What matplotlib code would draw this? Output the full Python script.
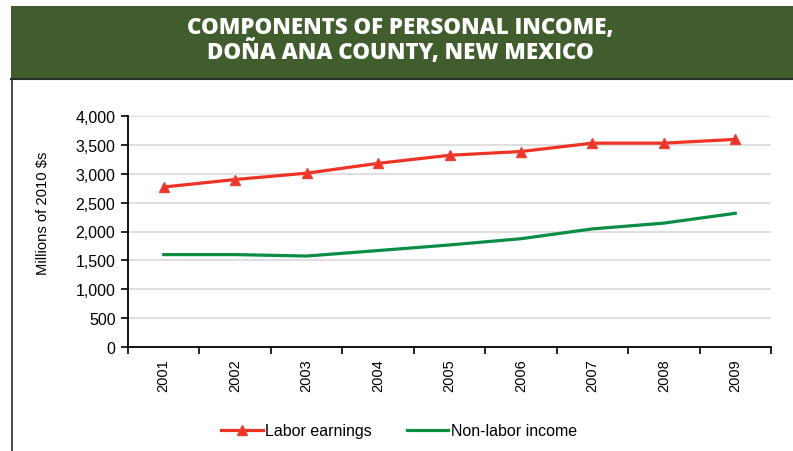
import numpy as np
import matplotlib.pyplot as plt
from matplotlib.patches import Rectangle
from matplotlib.lines import Line2D
from matplotlib.ticker import FuncFormatter, FixedLocator

years = ['2001', '2002', '2003', '2004', '2005', '2006', '2007', '2008', '2009']
labor = [2770, 2900, 3010, 3180, 3320, 3385, 3530, 3530, 3595]
nonlabor = [1600, 1600, 1575, 1670, 1767, 1875, 2045, 2145, 2315]

W, H = 793, 452
fig = plt.figure(figsize=(W / 100, H / 100), dpi=100)
fig.patch.set_facecolor('white')

# banner
fig.add_artist(Rectangle((11 / W, 1 - 79 / H), 1, 72 / H, transform=fig.transFigure,
                         facecolor='#415D2E', edgecolor='none'))
fig.text(400 / W, 1 - 28 / H, 'COMPONENTS OF PERSONAL INCOME,', color='white',
         fontsize=16, fontweight='heavy', family='Open Sans', ha='center', va='center')
fig.text(400 / W, 1 - 53 / H, 'DOÑA ANA COUNTY, NEW MEXICO', color='white',
         fontsize=16, fontweight='heavy', family='Open Sans', ha='center', va='center')
# box border
fig.add_artist(Line2D([11 / W, 1], [1 - 80 / H, 1 - 80 / H], transform=fig.transFigure,
                      color='#2b2b2b', lw=1.5))
fig.add_artist(Line2D([12 / W, 12 / W], [0, 1 - 80 / H], transform=fig.transFigure,
                      color='#2b2b2b', lw=1.2))

ax = fig.add_axes([128 / W, 1 - 348 / H, (771 - 128) / W, (348 - 117) / H])
x = np.arange(len(years))
ax.plot(x, labor, color='#EE3325', lw=2.3, marker='^', markersize=6.5,
        markeredgecolor='#E8453A', label='Labor earnings', zorder=3)
ax.plot(x, nonlabor, color='#0B8E43', lw=2.3, label='Non-labor income', zorder=3)

ax.set_xlim(-0.5, len(years) - 0.5)
ax.set_ylim(0, 4000)
ax.set_yticks(np.arange(0, 4001, 500))
ax.yaxis.set_major_formatter(FuncFormatter(lambda v, p: f'{int(v):,}'))
ax.yaxis.grid(True, color='#DCDCDC', lw=1.3)
ax.set_axisbelow(True)

ax.set_xticks(x)
ax.set_xticklabels(years, rotation=90, family='Liberation Sans', fontsize=10.5)
ax.xaxis.set_minor_locator(FixedLocator(np.arange(-0.5, len(years), 1)))
ax.tick_params(axis='x', which='major', length=0, pad=8)
ax.tick_params(axis='x', which='minor', length=5, width=1.2, direction='out')
ax.tick_params(axis='y', length=5, width=1.2, direction='out', pad=4)
for lab in ax.get_yticklabels():
    lab.set_family('Liberation Sans')
    lab.set_fontsize(11.5)

for s in ['top', 'right']:
    ax.spines[s].set_visible(False)
for s in ['left', 'bottom']:
    ax.spines[s].set_linewidth(1.3)
    ax.spines[s].set_color('black')

fig.text(43 / W, 1 - 213 / H, 'Millions of 2010 $s', rotation=90, ha='center', va='center',
         family='Liberation Sans', fontsize=10.6)

fig.legend(loc='center', bbox_to_anchor=(399 / W, 1 - 432 / H), ncol=2, frameon=False,
           prop={'family': 'Liberation Sans', 'size': 11.5}, handlelength=2.6,
           handletextpad=0.15, columnspacing=2.2)

fig.savefig('out.png', dpi=100)
